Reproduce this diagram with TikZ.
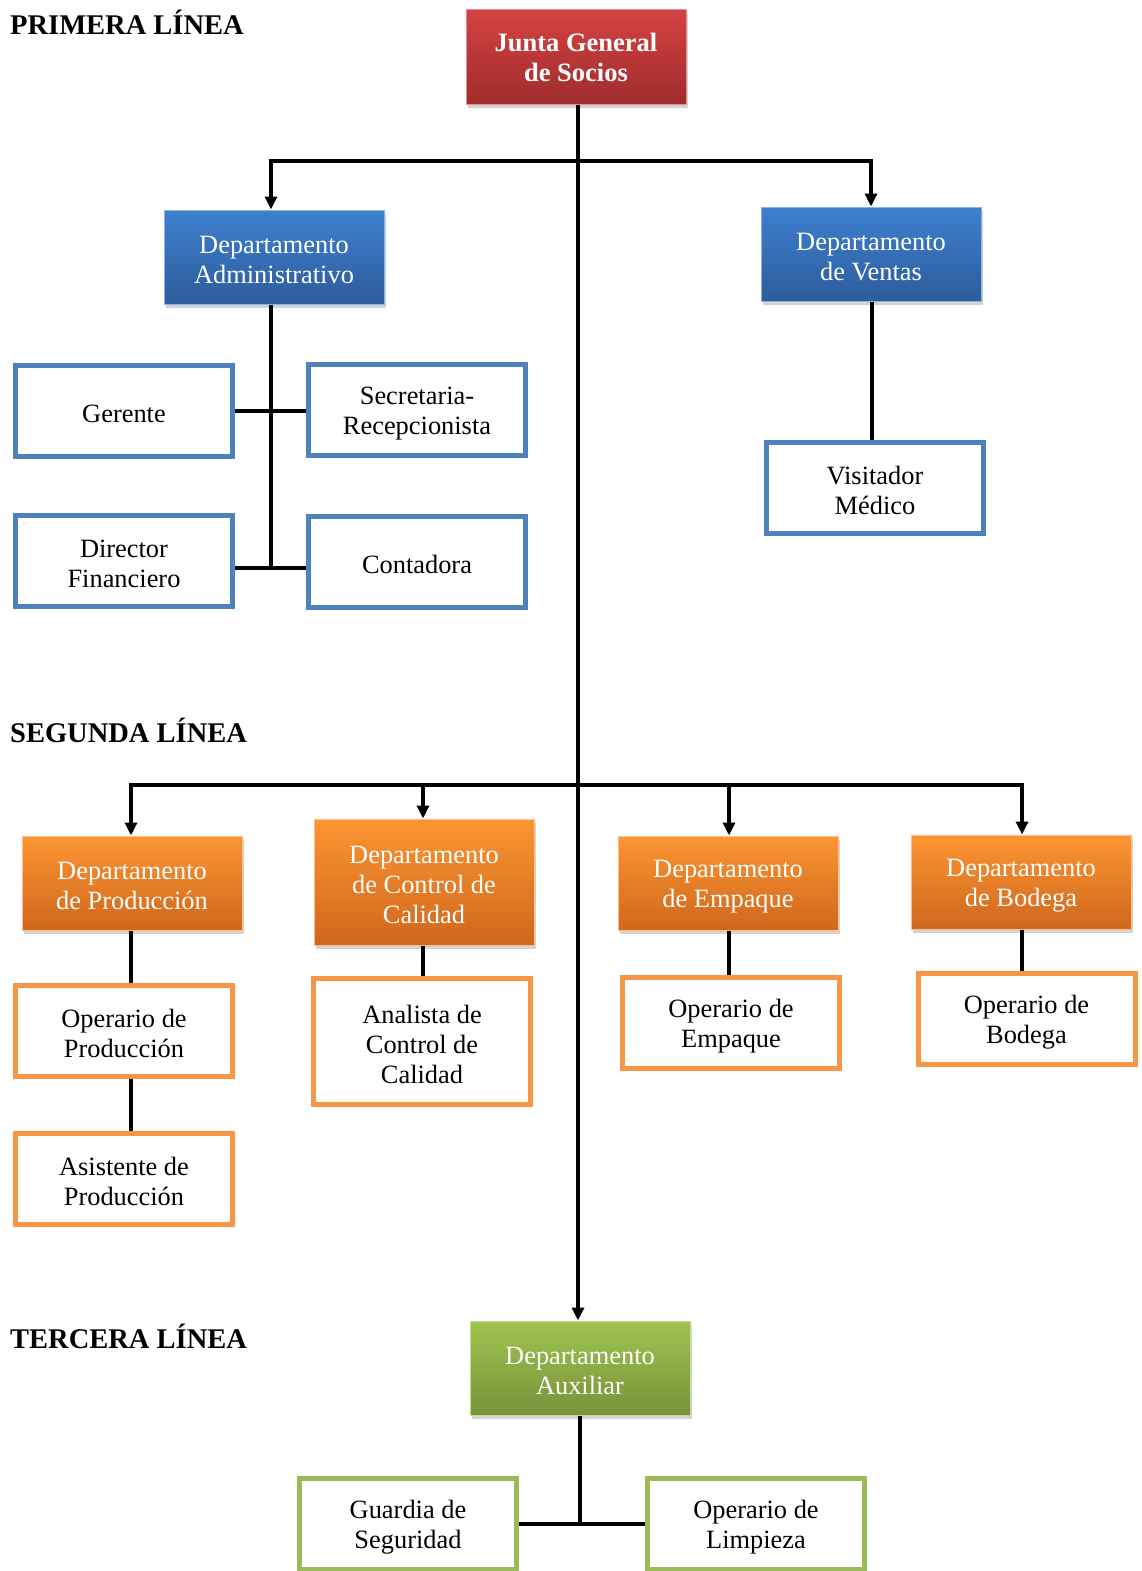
\documentclass[tikz,border=0pt]{standalone}
\usepackage{fontspec}
\setmainfont{Liberation Serif}
\usetikzlibrary{shadows,arrows.meta}
\definecolor{redA}{HTML}{D44242}
\definecolor{redB}{HTML}{A02C2C}
\definecolor{bluA}{HTML}{3E80D0}
\definecolor{bluB}{HTML}{2D5C9C}
\definecolor{orgA}{HTML}{FC9533}
\definecolor{orgB}{HTML}{D0671C}
\definecolor{grnA}{HTML}{9FC44F}
\definecolor{grnB}{HTML}{76933A}
\definecolor{bluO}{HTML}{4F81BD}
\definecolor{orgO}{HTML}{F79646}
\definecolor{grnO}{HTML}{9BBB59}
\newcommand\upstrut{\rule{0pt}{24pt}}
\begin{document}
\begin{tikzpicture}[x=1pt,y=-1pt,
  txt/.style={font=\fontsize{26.4}{30}\selectfont},
  filled/.style={txt, minimum width=220pt, minimum height=94pt, inner sep=0pt, align=center, text=white,
    drop shadow={shadow xshift=2pt,shadow yshift=-4pt,opacity=0.35}},
  redbox/.style={filled, top color=redA, bottom color=redB, draw=redA!60!white, line width=1pt},
  blubox/.style={filled, top color=bluA, bottom color=bluB, draw=bluA!60!white, line width=1pt},
  orgbox/.style={filled, top color=orgA, bottom color=orgB, draw=orgA!60!white, line width=1pt},
  grnbox/.style={filled, top color=grnA, bottom color=grnB, draw=grnA!60!white, line width=1pt},
  obox/.style={txt, fill=white, line width=5pt, minimum width=217pt, minimum height=91pt, inner sep=0pt, align=center},
  bluout/.style={obox, draw=bluO},
  orgout/.style={obox, draw=orgO},
  grnout/.style={obox, draw=grnO},
  ln/.style={line width=3.5pt},
  arr/.style={ln, -{Triangle[width=12pt,length=13pt]}},
  head/.style={font=\fontsize{28.5}{32}\selectfont\bfseries, anchor=west, inner sep=0pt}
]
\useasboundingbox (0,0) rectangle (1141,1571);

% headings
\node[head] (h1) at (10,22) {PRIMERA LÍNEA};
\node[head] (h2) at (10,730) {SEGUNDA LÍNEA};
\node[head] (h3) at (10,1336) {TERCERA LÍNEA};

% first line
\node[redbox, font=\fontsize{26.5}{30}\selectfont\bfseries] (junta) at (576,57) {Junta General\\de Socios};
\node[blubox] (admin) at (274,257) {\upstrut Departamento\\Administrativo};
\node[blubox] (ventas) at (871,254) {\upstrut Departamento\\de Ventas};
\node[bluout] (gerente) at (124,411) {\upstrut Gerente};
\node[bluout] (secre) at (417,410) {\upstrut Secretaria-\\Recepcionista};
\node[bluout] (director) at (124,561) {\upstrut Director\\Financiero};
\node[bluout] (conta) at (417,562) {\upstrut Contadora};
\node[bluout] (visit) at (875,488) {\upstrut Visitador\\Médico};

% second line
\node[orgbox] (prod) at (132,883) {\upstrut Departamento\\de Producción};
\node[orgbox, minimum height=126pt] (control) at (424,882) {\upstrut Departamento\\de Control de\\Calidad};
\node[orgbox] (empaque) at (728,883) {\upstrut Departamento\\de Empaque};
\node[orgbox] (bodega) at (1021,882) {\upstrut Departamento\\de Bodega};
\node[orgout] (opprod) at (124,1031) {\upstrut Operario de\\Producción};
\node[orgout] (asist) at (124,1179) {\upstrut Asistente de\\Producción};
\node[orgout, minimum height=126pt] (analista) at (422,1041.5) {\upstrut Analista de\\Control de\\Calidad};
\node[orgout] (opemp) at (731,1023) {\upstrut Operario de\\Empaque};
\node[orgout] (opbod) at (1026.5,1019) {\upstrut Operario de\\Bodega};

% third line
\node[grnbox] (aux) at (580,1368) {\upstrut Departamento\\Auxiliar};
\node[grnout] (guardia) at (408,1524) {\upstrut Guardia de\\Seguridad};
\node[grnout] (limpieza) at (756,1524) {\upstrut Operario de\\Limpieza};

% connectors
\coordinate (j1) at (578,161);
\coordinate (j2) at (578,785);
\draw[arr] ([xshift=2pt]junta.south) -- ([xshift=-2pt]aux.north);
\draw[arr] (j1) -| ([xshift=-3pt]admin.north);
\draw[arr] (j1) -| (ventas.north);
\coordinate (a2) at (271,568);
\draw[ln] ([xshift=-3pt]admin.south) -- (a2);
\draw[ln] (gerente.east) -- (secre.west |- gerente.east);
\draw[ln] (director.east |- a2) -- (conta.west |- a2);
\draw[ln] ([xshift=1pt]ventas.south) -- ([xshift=1pt]ventas.south |- visit.north);

\draw[arr] (j2) -| ([xshift=-1pt]prod.north);
\draw[arr] (j2) -| ([xshift=-1pt]control.north);
\draw[arr] (j2) -| ([xshift=1pt]empaque.north);
\draw[arr] (j2) -| ([xshift=1pt]bodega.north);
\draw[ln] ([xshift=-1pt]prod.south) -- ([xshift=-1pt]prod.south |- opprod.north);
\draw[ln] ([xshift=-1pt]prod.south |- opprod.south) -- ([xshift=-1pt]prod.south |- asist.north);
\draw[ln] ([xshift=-1pt]control.south) -- ([xshift=-1pt]control.south |- analista.north);
\draw[ln] ([xshift=1pt]empaque.south) -- ([xshift=1pt]empaque.south |- opemp.north);
\draw[ln] ([xshift=1pt]bodega.south) -- ([xshift=1pt]bodega.south |- opbod.north);

\draw[ln] (aux.south) -- (aux.south |- guardia.east);
\draw[ln] (guardia.east) -- (limpieza.west);
\end{tikzpicture}
\end{document}
